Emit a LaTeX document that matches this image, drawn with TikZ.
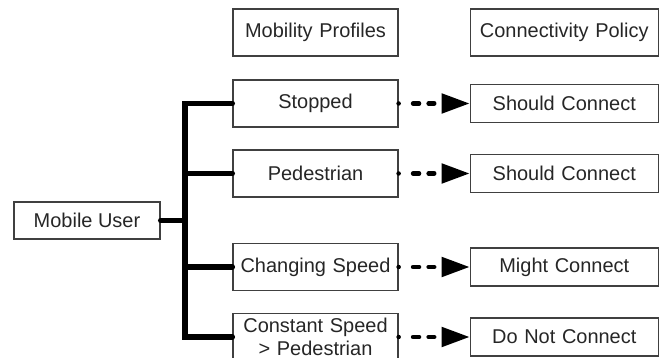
\documentclass[tikz,border=0pt]{standalone}
\usepackage{fontspec}
\setmainfont{Liberation Sans}
\usetikzlibrary{positioning, arrows.meta}

\begin{document}
\begin{tikzpicture}[
    node distance=1.775cm,
    every node/.style={draw=black!75, line width=0.9pt, rectangle, inner sep=0pt, text=black!85, align=center, font=\fontsize{14.2}{16.5}\selectfont},
    profile/.style={minimum width=4.125cm, minimum height=1.175cm, text width=4.1cm},
    policy/.style={minimum width=4.7cm, minimum height=0.95cm, text width=4.6cm},
    branch/.style={line width=3.8pt, line cap=round, draw=black},
    link/.style={-{Triangle[length=0.7cm, width=0.48cm]}, line width=3.2pt, line cap=round, dash pattern=on 0pt off 0.36cm on 0.15cm off 0.24cm on 0.14cm off 2cm, draw=black}
]
\useasboundingbox (0,0) rectangle (16.625,8.95);

% headers
\node[profile] (mp) at (7.8875,8.1375) {Mobility Profiles};
\node[profile, minimum width=4.7cm, text width=4.6cm, right=of mp] (cp) {Connectivity Policy};

% mobility profiles
\node[minimum width=3.65cm, minimum height=0.925cm] (mu) at (2.175,3.4375) {Mobile User};
\node[profile] (p1) at (7.8875,6.3625) {Stopped};
\node[profile] (p2) at (7.8875,4.6125) {Pedestrian};
\node[profile] (p3) at (7.8875,2.275) {Changing Speed};
\node[profile] (p4) at (7.8875,0.525) {Constant Speed\\> Pedestrian};

% connectivity policies
\node[policy, right=of p1] (c1) {Should Connect};
\node[policy, right=of p2] (c2) {Should Connect};
\node[policy, right=of p3] (c3) {Might Connect};
\node[policy, right=of p4] (c4) {Do Not Connect};

% tree
\coordinate (trunk) at (4.625,0.525);
\draw[branch] (p1.west) -| (trunk) -- (p4.west);
\draw[branch] (p2.west) -- (p2.west -| trunk);
\draw[branch] (p3.west) -- (p3.west -| trunk);
\draw[branch] (mu.east) -- (mu.east -| trunk);

\draw[link] (p1) -- (c1);
\draw[link] (p2) -- (c2);
\draw[link] (p3) -- (c3);
\draw[link] (p4) -- (c4);

\end{tikzpicture}
\end{document}
